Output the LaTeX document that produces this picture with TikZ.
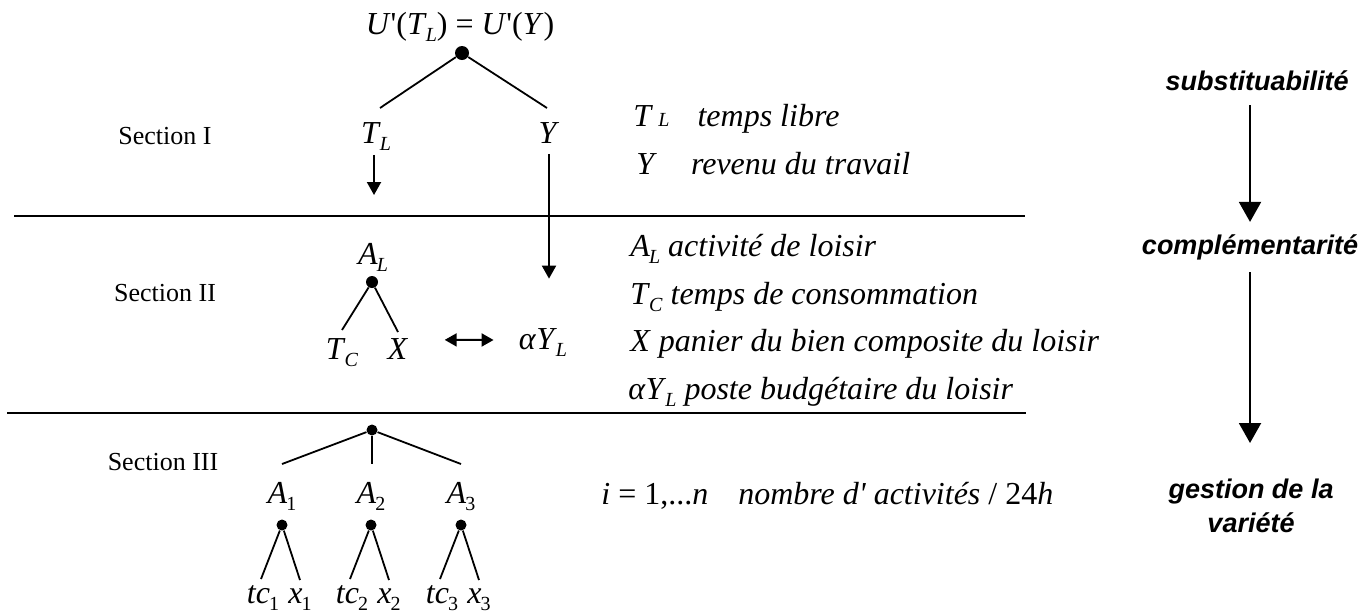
\documentclass[tikz,border=0pt]{standalone}
\usepackage{fontspec}
\setmainfont{Liberation Serif}
\newfontfamily\arialfont{Liberation Sans}
\usetikzlibrary{arrows.meta}

% lowered subscript, as set by the equation editor
\newcommand{\lo}[1]{\kern-0.5pt\raisebox{-3.5pt}{\fontsize{10}{10}\selectfont #1}}
\newcommand{\sv}[2]{\textit{#1}\lo{\textit{#2}}}
\newcommand{\apos}{\textquotesingle}

\begin{document}
\begin{tikzpicture}[x=0.5pt,y=-0.5pt,
    every node/.style={inner sep=0pt},
    var/.style={font=\fontsize{16}{19}\selectfont},
    sect/.style={font=\fontsize{13}{15}\selectfont},
    side/.style={font=\fontsize{13.5}{17}\selectfont\arialfont\bfseries\itshape, align=center},
    dot/.style={circle,fill,inner sep=0pt,minimum size=5.5pt},
    branch/.style={line width=0.9pt},
    bigarrow/.style={-{Triangle[length=10pt,width=11pt]}, line width=1pt},
    midarrow/.style={-{Triangle[length=6.5pt,width=7pt]}, line width=1pt},
    twoway/.style={{Triangle[length=6pt,width=6.5pt]}-{Triangle[length=6pt,width=6.5pt]}, line width=1pt}]
    \useasboundingbox (0,0) rectangle (1368,612);

    % section separators
    \draw[line width=1pt] (14,216) -- (1025,216);
    \draw[line width=1pt] (7,413) -- (1026,413);

    \node[sect] (s1) at (165,136) {Section I};
    \node[sect] (s2) at (165,293) {Section II};
    \node[sect] (s3) at (163,462) {Section III};

    % section I
    \node[var] (eq) at (460,27) {\textit{U}\apos(\sv{T}{L}) = \textit{U}\apos(\textit{Y})};
    \node[dot, minimum size=7pt] (root) at (462,53) {};
    \node[var, anchor=north] (tl) at (376,122) {\sv{T}{L}};
    \node[var, anchor=north] (y) at (549,122) {\textit{Y}};
    \draw[branch] (root) -- ([xshift=2pt,yshift=7pt]tl.north);
    \draw[branch] (root) -- ([xshift=-1pt,yshift=7pt]y.north);
    \coordinate (tlend) at (374,195);
    \draw[midarrow, shorten <=2pt] (tl.south -| tlend) -- (tlend);

    % section II
    \node[var] (al) at (373,257) {\sv{A}{L}};
    \node[dot, minimum size=6pt] (leis) at (372,282) {};
    \node[var, anchor=north] (tc) at (342,338) {\sv{T}{C}};
    \node[var, anchor=north] (x) at (398,338) {\textit{X}};
    \draw[branch] (leis) -- ([yshift=4pt]tc.north);
    \draw[branch] (leis) -- ([yshift=3pt]x.north);
    \node[var] (ay) at (543,343) {\textit{α}\sv{Y}{L}};
    \draw[midarrow, shorten <=5pt, shorten >=25pt] (y.south) -- (y.south |- ay.north);
    \draw[twoway] ([xshift=18pt,yshift=4.5pt]x.east) -- ([xshift=-12.5pt,yshift=1.5pt]ay.west);

    % section III
    \node[dot] (act) at (372,430) {};
    \foreach \i/\xa in {1/282,2/371,3/461} {
        \node[var, anchor=north] (a\i) at (\xa,482) {\textit{A}\lo{\i}};
        \node[dot] (d\i) at (\xa,525) {};
        \node[var, anchor=north] (tc\i) at (\xa-19,585) {\textit{tc}\lo{\i}};
        \node[var, anchor=north] (x\i) at (\xa+18,588) {\textit{x}\lo{\i}};
        \draw[branch] (d\i) -- ([xshift=-1pt,yshift=3pt]tc\i.north);
        \draw[branch] (d\i) -- ([yshift=4pt]x\i.north);
    }
    \draw[branch] (act) -- ([yshift=9pt]a1.north);
    \draw[branch] (act) -- ([yshift=9pt]act |- a2.north);
    \draw[branch] (act) -- ([yshift=9pt]a3.north);

    % legend
    \node[var, anchor=west] (lg1) at (633,119) {\textit{T}\,{\fontsize{10}{10}\selectfont\textit{L}}\hspace{14pt}\textit{temps libre}};
    \node[var, anchor=west] (lg2) at (636,164) {\textit{Y}\hspace{17pt}\textit{revenu du travail}};
    \node[var, anchor=west] (lg3) at (630,249) {\sv{A}{L} \textit{activité de loisir}};
    \node[var, anchor=west] (lg4) at (630,297) {\sv{T}{C} \textit{temps de consommation}};
    \node[var, anchor=west] (lg5) at (630,344) {\textit{X} \textit{panier du bien composite du loisir}};
    \node[var, anchor=west] (lg6) at (628,392) {\textit{α}\sv{Y}{L} \textit{poste budgétaire du loisir}};
    \node[var, anchor=west] (lg7) at (601,496) {\textit{i} = 1,...\textit{n}\hspace{15pt}\textit{nombre d\apos\ activités} / 24\textit{h}};

    % right column
    \node[side] (subst) at (1257,81) {substituabilité};
    \node[side] (compl) at (1250,247) {complémentarité};
    \node[side, anchor=north] (gest) at (1251,479) {gestion de la\\variété};
    \draw[bigarrow, shorten <=12pt, shorten >=6pt] (subst.center -| compl) -- (compl);
    \draw[bigarrow, shorten <=6pt, shorten >=18pt] (compl) -- (compl |- gest.north);
\end{tikzpicture}
\end{document}
